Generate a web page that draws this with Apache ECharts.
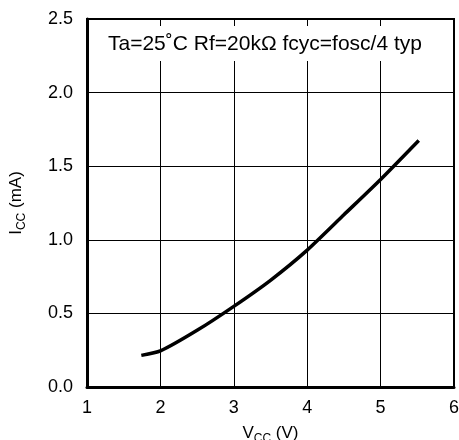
<!DOCTYPE html>
<html>
<head>
<meta charset="utf-8">
<script src="https://cdn.jsdelivr.net/npm/echarts@6/dist/echarts.min.js"></script>
<style>
html,body{margin:0;padding:0;background:#fff;}
#c{width:459px;height:440px;}
</style>
</head>
<body>
<div id="c"></div>
<script>
// Data
const vcc = [1.74, 2.0, 2.5, 3.0, 3.5, 4.0, 4.5, 5.0, 5.52];
const icc = [0.215, 0.245, 0.385, 0.548, 0.725, 0.93, 1.17, 1.41, 1.675];
const xTicks = [1, 2, 3, 4, 5, 6];
const yTicks = [0.0, 0.5, 1.0, 1.5, 2.0, 2.5];
const annotation = 'Ta=25˚C Rf=20kΩ fcyc=fosc/4 typ';

const FONT = '"Liberation Sans", Arial, sans-serif';
const chart = echarts.init(document.getElementById('c'), null, {renderer: 'canvas'});

const nameRich = {
  n: {fontFamily: FONT, fontSize: 17, color: '#000', lineHeight: 19, verticalAlign: 'bottom'},
  s: {fontFamily: FONT, fontSize: 12, color: '#000', lineHeight: 14, verticalAlign: 'bottom', padding: [0, 0, -3, 0]}
};

chart.setOption({
  animation: false,
  backgroundColor: '#fff',
  title: {
    text: annotation,
    left: 100,
    top: 26,
    padding: [8, 8, 6, 8],
    backgroundColor: '#fff',
    textStyle: {fontFamily: FONT, fontSize: 21, fontWeight: 'normal', color: '#000'}
  },
  grid: {
    left: 87, right: 5, top: 19, bottom: 53,
    containLabel: false,
    outerBoundsMode: 'none',
    show: true, borderColor: '#000', borderWidth: 2, backgroundColor: 'transparent'
  },
  xAxis: {
    type: 'value',
    min: xTicks[0], max: xTicks[xTicks.length - 1], interval: 1,
    axisLine: {show: true, onZero: false, lineStyle: {color: '#000', width: 3}},
    axisTick: {show: false},
    splitLine: {show: true, lineStyle: {color: '#000', width: 1}},
    axisLabel: {color: '#000', fontFamily: FONT, fontSize: 18, margin: 12,
      formatter: v => String(v)},
    name: '{n|V}{s|CC}{n| (V)}',
    nameLocation: 'middle',
    nameGap: 36,
    nameTextStyle: {rich: nameRich}
  },
  yAxis: {
    type: 'value',
    min: yTicks[0], max: yTicks[yTicks.length - 1], interval: 0.5,
    axisLine: {show: true, onZero: false, lineStyle: {color: '#000', width: 3}},
    axisTick: {show: false},
    splitLine: {show: true, lineStyle: {color: '#000', width: 1}},
    axisLabel: {color: '#000', fontFamily: FONT, fontSize: 18, margin: 14,
      formatter: v => v.toFixed(1)},
    name: '{n|I}{s|CC}{n| (mA)}',
    nameLocation: 'middle',
    nameRotate: 90,
    nameGap: 62,
    nameTextStyle: {rich: nameRich}
  },
  series: [{
    type: 'line',
    data: vcc.map((x, i) => [x, icc[i]]),
    showSymbol: false,
    smooth: 0.2,
    lineStyle: {color: '#000', width: 3.5},
    z: 5
  }]
});
</script>
</body>
</html>
